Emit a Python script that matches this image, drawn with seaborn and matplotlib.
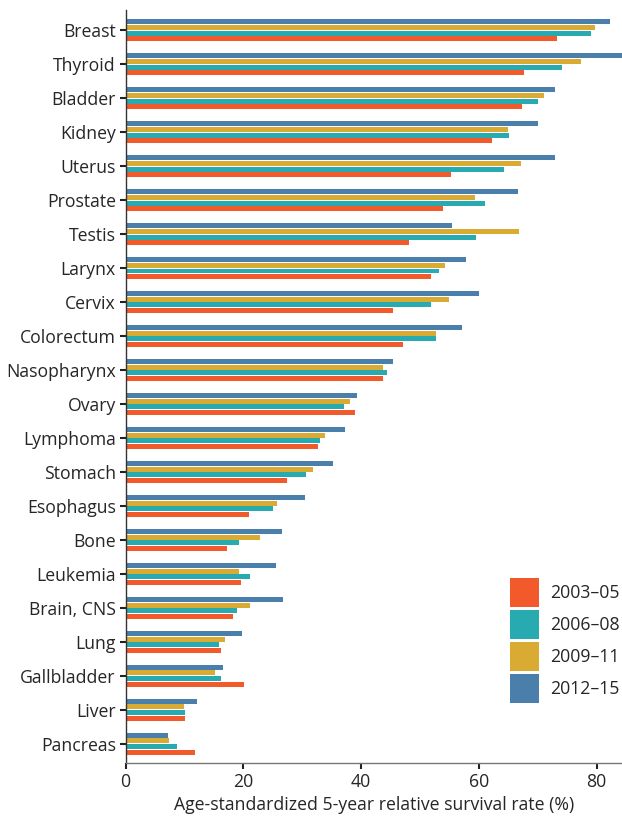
import matplotlib
matplotlib.use("Agg")
import matplotlib.pyplot as plt
import matplotlib.patches as mpatches
import seaborn as sns
import pandas as pd

sites = ["Breast", "Thyroid", "Bladder", "Kidney", "Uterus", "Prostate", "Testis",
         "Larynx", "Cervix", "Colorectum", "Nasopharynx", "Ovary", "Lymphoma",
         "Stomach", "Esophagus", "Bone", "Leukemia", "Brain, CNS", "Lung",
         "Gallbladder", "Liver", "Pancreas"]

p2003_05 = [73.2, 67.6, 67.4, 62.2, 55.2, 53.9, 48.1, 51.8, 45.5, 47.2, 43.8, 38.9,
            32.6, 27.4, 20.9, 17.2, 19.6, 18.2, 16.2, 20.1, 10.1, 11.8]
p2006_08 = [79.0, 74.1, 70.0, 65.1, 64.2, 61.0, 59.5, 53.2, 51.8, 52.8, 44.4, 37.1,
            33.0, 30.6, 25.0, 19.2, 21.1, 18.9, 15.8, 16.2, 10.1, 8.7]
p2009_11 = [79.8, 77.3, 71.0, 64.9, 67.1, 59.3, 66.8, 54.2, 54.9, 52.8, 43.8, 38.1,
            33.8, 31.8, 25.7, 22.8, 19.2, 21.1, 16.9, 15.2, 9.9, 7.4]
p2012_15 = [82.2, 84.6, 73.0, 70.0, 72.9, 66.6, 55.4, 57.8, 60.0, 57.1, 45.5, 39.3,
            37.2, 35.2, 30.4, 26.5, 25.5, 26.7, 19.7, 16.5, 12.1, 7.2]

periods = ["2003–05", "2006–08", "2009–11", "2012–15"]
colors = ["#F2592B", "#27AAB0", "#DAAB33", "#4A7EAB"]

rows = []
for per, vals in zip(periods, [p2003_05, p2006_08, p2009_11, p2012_15]):
    for s, v in zip(sites, vals):
        rows.append({"site": s, "period": per, "rate": v})
df = pd.DataFrame(rows)

sns.set_theme(style="ticks")
plt.rcParams["font.family"] = ["Open Sans", "DejaVu Sans"]
txt = "#262626"
fs = 12.7

fig = plt.figure(figsize=(6.22, 8.17), dpi=100)
ax = fig.add_axes([125.5 / 622, 1 - 763 / 817, (622 - 125.5) / 622, (763 - 10) / 817])

hue_order = periods[::-1]
pal = dict(zip(periods, colors))
sns.barplot(data=df, x="rate", y="site", hue="period", hue_order=hue_order,
            order=sites, palette=pal, orient="h", width=0.7, gap=0.16,
            saturation=1, legend=False, ax=ax, errorbar=None, linewidth=0)

ax.set_xlim(0, 84.3)
ax.set_ylim(21.56, -0.59)
ax.set_xticks([0, 20, 40, 60, 80])
ax.set_xlabel("Age-standardized 5-year relative survival rate (%)", fontsize=fs,
              color=txt, labelpad=4)
ax.set_ylabel("")
ax.tick_params(axis="both", labelsize=fs, colors="#222222", labelcolor=txt,
               length=4, width=1.5, pad=3)
for side in ["top", "right"]:
    ax.spines[side].set_visible(False)
ax.spines["left"].set_color("#333333")
ax.spines["bottom"].set_color("#777777")
ax.spines["left"].set_linewidth(1.0)
ax.spines["bottom"].set_linewidth(1.0)

handles = [mpatches.Patch(facecolor=c, edgecolor="none", label=p)
           for p, c in zip(periods, colors)]
leg = ax.legend(handles=handles, loc="lower left",
                bbox_to_anchor=((510 - 125.5) / 496.5, (763 - 703) / 753),
                frameon=False, fontsize=fs, handlelength=1.645, handleheight=2.155,
                handletextpad=0.62, labelspacing=0.165, borderaxespad=0, borderpad=0)
for t in leg.get_texts():
    t.set_color(txt)

fig.savefig("out.png", dpi=100)
